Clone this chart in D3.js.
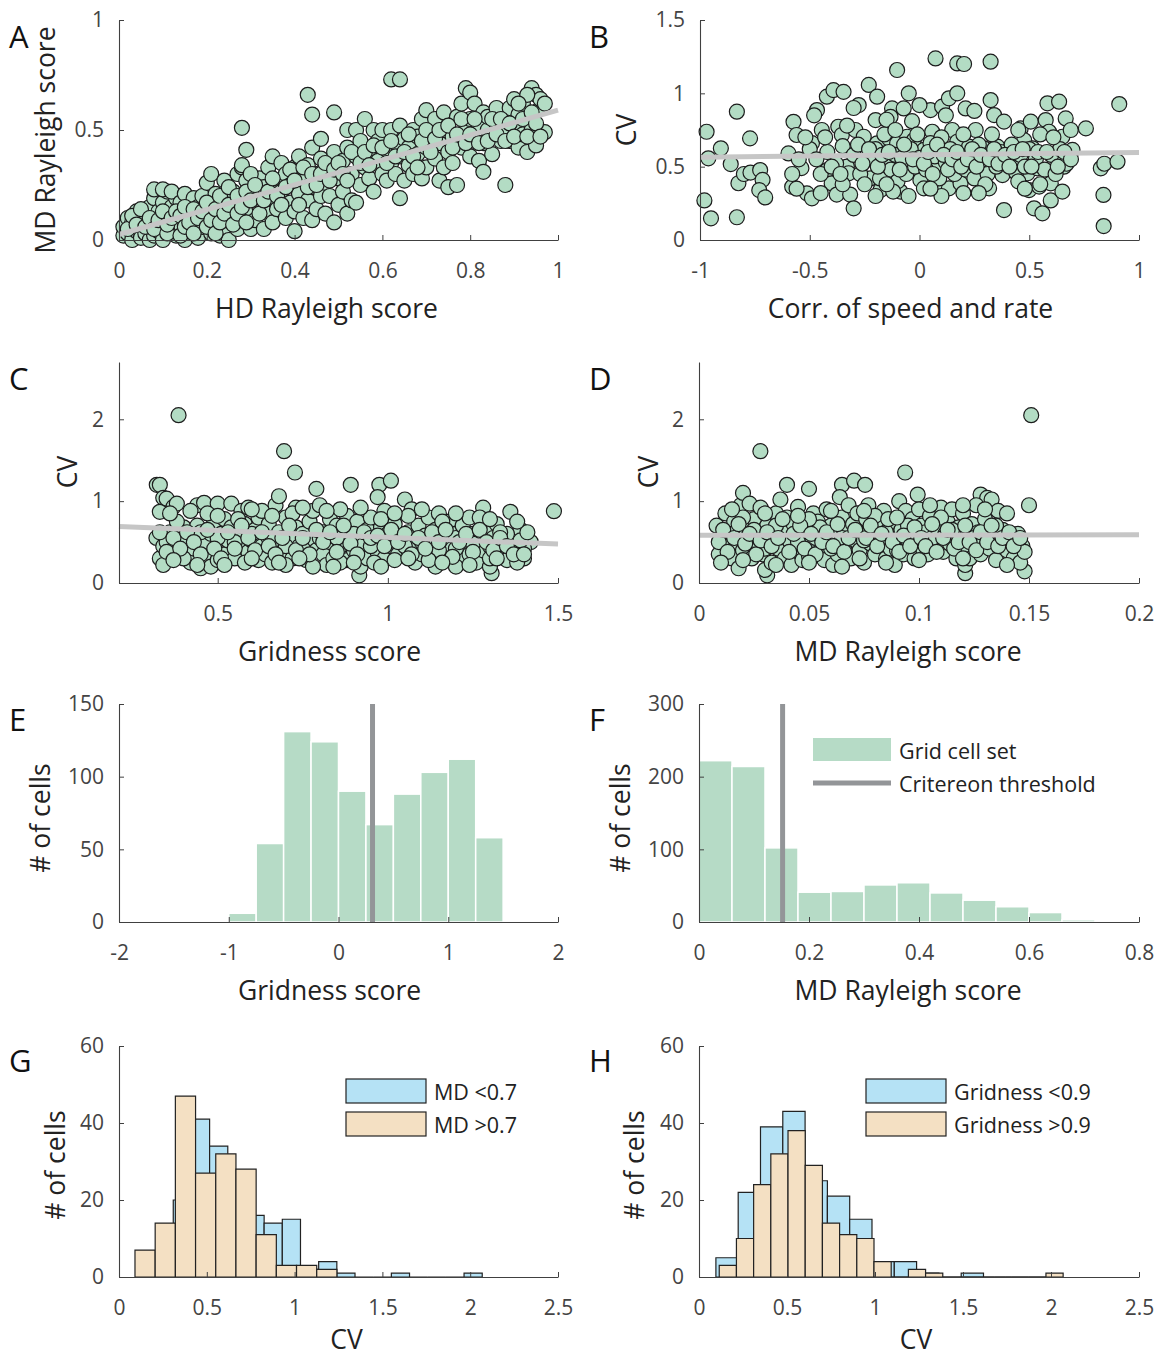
<!DOCTYPE html>
<html>
<head>
<meta charset="utf-8">
<script src="https://cdn.jsdelivr.net/npm/d3@7"></script>
<style>
  body { margin: 0; background: #fff; }
  text { font-family: "Open Sans", sans-serif; }
</style>
</head>
<body>
<svg id="fig" width="1158" height="1357"></svg>
<script>
// ---- data ----

// A: HD Rayleigh score vs MD Rayleigh score
const pointsA = [
  [0.01,0.02],[0.01,0.06],[0.02,0.1],[0.02,0.03],[0.03,0.0],[0.03,0.08],[0.04,0.13],[0.04,0.04],[0.05,0.01],[0.05,0.07],
  [0.06,0.11],[0.06,0.03],[0.07,0.0],[0.07,0.15],[0.07,0.06],[0.08,0.19],[0.08,0.1],[0.08,0.02],[0.09,0.13],[0.09,0.04],
  [0.1,0.08],[0.1,0.17],[0.1,0.0],[0.11,0.22],[0.11,0.12],[0.12,0.05],[0.12,0.15],[0.13,0.02],[0.13,0.19],[0.13,0.09],
  [0.08,0.23],[0.1,0.23],[0.12,0.22],
  [0.14,0.07],[0.14,0.17],[0.15,0.0],[0.15,0.21],[0.16,0.12],[0.16,0.04],[0.17,0.19],[0.17,0.09],[0.18,0.01],[0.18,0.15],
  [0.19,0.2],[0.19,0.06],[0.2,0.11],[0.2,0.26],[0.21,0.03],[0.21,0.16],[0.21,0.3],[0.22,0.08],[0.22,0.21],[0.23,0.13],
  [0.23,0.02],[0.24,0.27],[0.24,0.18],[0.24,0.06],[0.25,0.1],[0.25,0.0],[0.26,0.22],[0.26,0.15],[0.27,0.05],[0.27,0.3],
  [0.28,0.19],[0.28,0.1],[0.28,0.33],[0.28,0.34],[0.29,0.41],[0.28,0.51],[0.29,0.27],[0.3,0.14],[0.3,0.05],
  [0.31,0.2],[0.31,0.09],[0.32,0.28],[0.32,0.15],[0.33,0.05],[0.33,0.24],[0.34,0.33],[0.34,0.12],[0.35,0.38],[0.35,0.19],
  [0.35,0.08],[0.36,0.27],[0.36,0.14],[0.37,0.22],[0.37,0.35],[0.38,0.1],[0.38,0.3],[0.39,0.17],[0.39,0.25],[0.4,0.04],
  [0.4,0.33],[0.4,0.13],[0.41,0.38],[0.41,0.21],[0.42,0.28],[0.42,0.1],[0.43,0.18],[0.43,0.34],[0.44,0.42],[0.44,0.24],
  [0.44,0.09],[0.45,0.3],[0.45,0.14],[0.46,0.46],[0.46,0.37],[0.46,0.2],[0.43,0.66],[0.44,0.57],[0.49,0.58],
  [0.47,0.26],[0.47,0.12],[0.48,0.33],[0.48,0.2],[0.49,0.4],[0.49,0.08],[0.5,0.28],[0.5,0.16],[0.51,0.36],[0.51,0.22],
  [0.52,0.5],[0.52,0.42],[0.52,0.12],[0.53,0.3],[0.53,0.18],[0.54,0.5],[0.54,0.38],[0.54,0.17],[0.55,0.25],[0.55,0.45],
  [0.56,0.33],[0.56,0.55],[0.57,0.4],[0.57,0.28],[0.58,0.5],[0.58,0.22],[0.59,0.36],[0.59,0.45],[0.6,0.3],[0.6,0.5],
  [0.61,0.41],[0.61,0.27],[0.62,0.5],[0.62,0.35],[0.63,0.44],[0.63,0.3],[0.64,0.38],[0.64,0.52],[0.65,0.27],[0.65,0.46],
  [0.66,0.34],[0.66,0.42],[0.67,0.3],[0.67,0.5],[0.68,0.39],[0.68,0.47],[0.69,0.28],[0.69,0.55],[0.7,0.42],[0.7,0.59],
  [0.7,0.33],[0.71,0.48],[0.72,0.37],[0.72,0.55],[0.73,0.44],[0.73,0.27],[0.74,0.58],[0.74,0.33],[0.74,0.5],[0.75,0.4],
  [0.75,0.24],[0.62,0.73],[0.64,0.73],[0.64,0.19],
  [0.76,0.47],[0.76,0.35],[0.77,0.56],[0.77,0.25],[0.78,0.62],[0.78,0.42],[0.79,0.69],[0.79,0.5],[0.8,0.67],[0.8,0.38],
  [0.8,0.55],[0.81,0.62],[0.81,0.45],[0.82,0.52],[0.82,0.36],[0.83,0.58],[0.83,0.31],[0.83,0.44],[0.84,0.5],[0.84,0.56],
  [0.85,0.47],[0.85,0.39],[0.86,0.53],[0.86,0.6],[0.87,0.45],[0.88,0.55],[0.88,0.25],[0.88,0.5],
  [0.89,0.6],[0.89,0.45],[0.9,0.64],[0.9,0.52],[0.91,0.42],[0.91,0.57],[0.92,0.48],[0.92,0.62],[0.93,0.4],[0.93,0.55],
  [0.94,0.69],[0.94,0.5],[0.95,0.43],[0.95,0.66],[0.96,0.6],[0.96,0.64],[0.97,0.49],[0.93,0.66],[0.91,0.62],
  [0.02,0.05],[0.03,0.11],[0.04,0.07],[0.05,0.14],[0.06,0.06],[0.07,0.1],[0.08,0.05],[0.09,0.09],[0.1,0.13],[0.11,0.03],
  [0.11,0.07],[0.12,0.1],[0.13,0.13],[0.14,0.02],[0.14,0.11],[0.15,0.06],[0.15,0.15],[0.16,0.08],[0.17,0.14],[0.17,0.03],
  [0.18,0.1],[0.19,0.13],[0.2,0.06],[0.2,0.17],[0.21,0.09],[0.22,0.14],[0.22,0.03],[0.23,0.2],[0.23,0.08],[0.24,0.12],
  [0.25,0.16],[0.25,0.24],[0.26,0.07],[0.27,0.12],[0.27,0.2],[0.28,0.15],[0.29,0.08],[0.29,0.22],[0.3,0.3],[0.3,0.18],
  [0.31,0.25],[0.32,0.12],[0.33,0.18],[0.34,0.22],[0.35,0.28],[0.36,0.2],[0.37,0.16],[0.38,0.24],[0.39,0.32],[0.4,0.27],
  [0.41,0.16],[0.42,0.33],[0.43,0.24],[0.44,0.3],[0.45,0.25],[0.46,0.3],[0.47,0.35],[0.48,0.27],[0.49,0.32],[0.5,0.35],
  [0.51,0.3],[0.52,0.27],[0.53,0.4],[0.55,0.35],[0.56,0.4],[0.57,0.34],[0.58,0.43],[0.6,0.42],[0.61,0.35],[0.62,0.45],
  [0.63,0.38],[0.65,0.4],[0.66,0.48],[0.67,0.38],[0.68,0.33],[0.69,0.45],[0.7,0.5],[0.71,0.4],[0.72,0.46],[0.73,0.5],
  [0.75,0.52],[0.76,0.42],[0.77,0.48],[0.78,0.55],[0.79,0.44],[0.8,0.48],[0.81,0.55],[0.82,0.44],[0.84,0.45],[0.85,0.55],
  [0.86,0.48],[0.87,0.55],[0.88,0.45],[0.89,0.53],[0.9,0.47],[0.92,0.55],[0.93,0.47],[0.94,0.58],[0.95,0.53],[0.96,0.47],
  [0.97,0.62]
];
const fitA = [[0, 0.025], [1, 0.59]];

// B: correlation of speed and rate vs CV
const pointsB = [
  [-0.97,0.738],[-0.962,0.557],[-0.98,0.27],[-0.95,0.148],[-0.905,0.625],[-0.86,0.518],[-0.832,0.875],[-0.832,0.155],
  [-0.772,0.693],[-0.825,0.387],[-0.8,0.45],[-0.77,0.46],[-0.726,0.477],[-0.715,0.41],[-0.73,0.34],[-0.703,0.29],
  [-0.597,0.59],[-0.574,0.806],[-0.56,0.716],[-0.538,0.49],[-0.58,0.363],[-0.513,0.318],[-0.49,0.284],[-0.49,0.66],
  [-0.467,0.886],[-0.445,0.75],[-0.422,0.977],[-0.392,1.022],[-0.346,1.01],[-0.42,0.477],[-0.4,0.386],[-0.377,0.31],
  [-0.37,0.772],[-0.354,0.716],[-0.331,0.5],[-0.323,0.455],[-0.316,0.31],[-0.3,0.216],[-0.292,0.75],[-0.277,0.92],
  [-0.254,0.704],[-0.231,1.057],[-0.2,0.818],[-0.193,0.977],[-0.193,0.659],[-0.224,0.42],[-0.178,0.34],[-0.148,0.5],
  [-0.14,0.693],[-0.125,0.897],[-0.132,0.84],[-0.102,1.159],[-0.102,0.659],[-0.11,0.58],[-0.087,0.33],[-0.072,0.897],
  [-0.064,0.52],[-0.056,0.704],[-0.049,1.0],[-0.034,0.81],[-0.026,0.68],[0.004,0.409],[0.02,0.614],[0.02,0.352],
  [0.05,0.886],[0.058,0.738],[0.073,1.238],[0.08,0.5],[0.103,0.909],[0.111,0.34],[0.134,0.352],[0.134,0.966],
  [0.149,0.75],[0.172,1.204],[0.203,1.2],[0.172,1.0],[0.172,0.67],[0.187,0.386],[0.21,0.897],[0.226,0.636],
  [0.248,0.534],[0.256,0.75],[0.279,0.455],[0.294,0.625],[0.317,0.352],[0.324,1.216],[0.324,0.954],[0.34,0.852],
  [0.355,0.636],[0.378,0.443],[0.385,0.807],[0.385,0.204],[0.408,0.614],[0.439,0.557],[0.461,0.761],[0.477,0.68],
  [0.492,0.455],[0.499,0.34],[0.507,0.807],[0.515,0.625],[0.522,0.216],[0.537,0.489],[0.545,0.364],[0.56,0.182],
  [0.575,0.818],[0.583,0.932],[0.59,0.738],[0.598,0.27],[0.598,0.386],[0.62,0.568],[0.636,0.943],[0.651,0.704],
  [0.651,0.33],[0.658,0.5],[0.666,0.829],[0.689,0.75],[0.697,0.614],[0.758,0.761],[0.826,0.489],[0.842,0.52],
  [0.838,0.307],[0.839,0.095],[0.902,0.534],[0.91,0.927],
  [-0.55,0.55],[-0.5,0.62],[-0.45,0.45],[-0.42,0.6],[-0.38,0.52],[-0.35,0.64],[-0.3,0.58],[-0.27,0.45],[-0.25,0.38],
  [-0.22,0.55],[-0.2,0.62],[-0.18,0.42],[-0.16,0.72],[-0.13,0.48],[-0.1,0.4],[-0.08,0.56],[-0.06,0.45],[-0.04,0.62],
  [-0.02,0.5],[0,0.56],[0.03,0.48],[0.05,0.66],[0.07,0.57],[0.09,0.42],[0.1,0.7],[0.12,0.53],[0.14,0.62],[0.16,0.45],
  [0.18,0.55],[0.2,0.72],[0.21,0.48],[0.23,0.58],[0.25,0.42],[0.27,0.65],[0.29,0.55],[0.31,0.45],[0.33,0.72],[0.35,0.5],
  [0.37,0.6],[0.4,0.52],[0.42,0.65],[0.44,0.46],[0.46,0.58],[0.48,0.5],[0.5,0.62],[0.53,0.55],[0.55,0.72],[0.57,0.48],
  [0.6,0.58],[0.62,0.45],[0.64,0.62],[0.67,0.52],
  [-0.45,0.32],[-0.35,0.38],[-0.2,0.3],[-0.12,0.33],[-0.05,0.3],[0.1,0.3],[0.2,0.32],[0.3,0.38],[0.45,0.4],[0.55,0.38],
  [-0.48,0.85],[-0.3,0.9],[-0.15,0.82],[0.0,0.92],[0.12,0.85],[0.25,0.88],[0.45,0.75],
  [-0.58,0.45],[-0.52,0.7],[-0.47,0.55],[-0.43,0.7],[-0.4,0.5],[-0.36,0.45],[-0.33,0.78],[-0.28,0.65],[-0.26,0.52],
  [-0.23,0.62],[-0.19,0.5],[-0.17,0.58],[-0.14,0.6],[-0.11,0.75],[-0.09,0.48],[-0.07,0.65],[-0.03,0.55],[-0.01,0.72],
  [0.02,0.52],[0.04,0.6],[0.06,0.45],[0.08,0.65],[0.11,0.58],[0.13,0.48],[0.15,0.55],[0.17,0.6],[0.19,0.5],[0.22,0.55],
  [0.24,0.62],[0.26,0.5],[0.28,0.58],[0.32,0.55],[0.34,0.62],[0.36,0.52],[0.39,0.58],[0.41,0.5],[0.43,0.6],[0.47,0.62],
  [0.51,0.5],[0.54,0.6],[0.58,0.6],[0.61,0.7],[0.63,0.5],[0.66,0.6],[0.69,0.55],[-0.56,0.35],[-0.15,0.38],[0.05,0.35],
  [0.27,0.32],[0.48,0.35]
];
const fitB = [[-1, 0.565], [1, 0.597]];

// C: gridness score vs CV
const pointsC = [
  [0.385,2.05],[0.695,1.61],[0.727,1.35],[0.891,1.2],[0.975,1.2],[1.009,1.25],[1.488,0.877],[0.321,1.2],[0.33,1.2],
  [0.34,1.04],[0.916,0.094],[1.305,0.12],
  [0.32,0.55],[0.33,0.3],[0.33,0.87],[0.34,0.45],[0.34,0.22],
  [0.35,1.03],[0.36,0.62],[0.36,0.4],[0.37,0.93],[0.38,0.48],[0.38,0.97],
  [0.4,0.68],[0.41,0.35],[0.42,0.58],[0.42,0.25],[0.43,0.42],[0.44,0.95],[0.44,0.7],
  [0.45,0.18],[0.46,0.5],[0.46,0.98],[0.47,0.28],[0.48,0.6],[0.48,0.2],[0.49,0.75],
  [0.5,0.45],[0.5,0.97],[0.51,0.6],[0.52,0.78],[0.52,0.35],[0.53,0.52],[0.54,0.97],[0.54,0.68],
  [0.55,0.3],[0.56,0.58],[0.57,0.45],[0.57,0.88],[0.58,0.72],[0.59,0.38],[0.59,0.92],
  [0.6,0.52],[0.61,0.65],[0.62,0.28],[0.62,0.8],[0.63,0.45],[0.64,0.6],[0.64,0.35],
  [0.65,0.72],[0.66,0.25],[0.67,0.95],[0.67,0.5],[0.68,1.06],[0.68,0.62],[0.69,0.38],
  [0.7,0.8],[0.71,0.55],[0.72,0.3],[0.73,0.92],[0.73,0.68],[0.74,0.45],
  [0.75,0.6],[0.76,0.28],[0.77,0.75],[0.77,0.5],[0.78,0.88],[0.79,0.4],[0.79,1.15],
  [0.8,0.95],[0.81,0.62],[0.81,0.35],[0.82,0.22],[0.83,0.78],[0.83,0.5],[0.84,0.3],
  [0.85,0.7],[0.86,0.45],[0.87,0.58],[0.88,0.82],[0.88,0.28],[0.89,0.65],
  [0.9,0.4],[0.91,0.75],[0.91,0.55],[0.92,0.2],[0.93,0.48],[0.94,0.3],[0.94,0.65],
  [0.95,0.8],[0.96,0.52],[0.97,1.05],[0.97,0.38],[0.98,0.68],[0.99,0.88],[0.99,0.3],
  [1.0,0.6],[1.01,0.45],[1.02,0.72],[1.03,0.35],[1.04,0.55],[1.05,1.02],
  [1.06,0.4],[1.06,0.62],[1.07,0.9],[1.08,0.25],[1.08,0.5],[1.09,0.7],
  [1.1,0.35],[1.11,0.58],[1.12,0.8],[1.13,0.45],[1.14,0.2],[1.14,0.65],
  [1.15,0.85],[1.16,0.52],[1.17,0.3],[1.18,0.75],[1.19,0.42],[1.19,0.6],
  [1.2,0.55],[1.21,0.28],[1.22,0.7],[1.23,0.45],[1.24,0.8],[1.24,0.35],
  [1.25,0.6],[1.26,0.25],[1.27,0.52],[1.28,0.92],[1.28,0.4],[1.29,0.68],
  [1.3,0.2],[1.31,0.55],[1.32,0.72],[1.33,0.38],[1.34,0.5],[1.35,0.28],
  [1.36,0.87],[1.37,0.58],[1.38,0.45],[1.39,0.65],[1.4,0.3],[1.41,0.55],[1.42,0.5],
  [0.35,0.5],[0.4,0.55],[0.45,0.62],[0.5,0.55],[0.55,0.5],[0.6,0.6],[0.65,0.55],[0.7,0.45],[0.75,0.42],[0.8,0.55],
  [0.85,0.55],[0.9,0.6],[0.95,0.45],[1.0,0.5],[1.05,0.45],[1.1,0.5],[1.15,0.4],[1.2,0.42],[1.25,0.48],[1.3,0.45],
  [1.35,0.6],[1.4,0.42],
  [0.38,0.75],[0.47,0.85],[0.56,0.78],[0.63,0.88],[0.72,0.85],[0.86,0.9],[0.98,0.78],[1.06,0.82],[1.16,0.75],
  [1.27,0.8],[1.33,0.62],
  [0.4,0.3],[0.5,0.28],[0.58,0.25],[0.7,0.22],[0.78,0.2],[0.86,0.25],[0.96,0.25],[1.02,0.28],[1.12,0.28],[1.2,0.2],
  [1.3,0.3],[1.38,0.25],
  [0.33,0.62],[0.35,0.38],[0.37,0.55],[0.39,0.42],[0.41,0.62],[0.43,0.5],[0.45,0.35],[0.47,0.65],[0.49,0.42],[0.51,0.3],
  [0.53,0.62],[0.55,0.42],[0.57,0.7],[0.59,0.55],[0.61,0.4],[0.63,0.62],[0.65,0.45],[0.67,0.35],[0.69,0.55],[0.71,0.7],
  [0.73,0.4],[0.75,0.55],[0.77,0.35],[0.79,0.65],[0.81,0.5],[0.83,0.62],[0.85,0.38],[0.87,0.7],[0.89,0.48],[0.91,0.35],
  [0.93,0.62],[0.95,0.55],[0.97,0.58],[0.99,0.45],[1.01,0.65],[1.03,0.5],[1.05,0.6],[1.07,0.35],[1.09,0.55],[1.11,0.42],
  [1.13,0.62],[1.15,0.5],[1.17,0.65],[1.19,0.32],[1.21,0.5],[1.23,0.6],[1.25,0.38],[1.27,0.65],[1.29,0.5],[1.31,0.4],
  [1.33,0.55],[1.35,0.45],[1.37,0.35],[1.39,0.52],[1.41,0.62],
  [0.36,0.85],[0.42,0.88],[0.5,0.82],[0.6,0.9],[0.66,0.82],[0.75,0.92],[0.82,0.88],[0.92,0.92],[1.02,0.85],[1.1,0.9],
  [1.2,0.85],[1.3,0.78],[1.38,0.75],
  [0.37,0.28],[0.44,0.22],[0.52,0.22],[0.6,0.3],[0.68,0.25],[0.74,0.3],[0.84,0.2],[0.9,0.25],[0.98,0.2],[1.06,0.3],
  [1.16,0.25],[1.24,0.22],[1.32,0.3],[1.4,0.35]
];
const fitC = [[0.21, 0.69], [1.5, 0.475]];

// D: MD Rayleigh score (grid cells) vs CV
const pointsD = [
  [0.151,2.05],[0.0279,1.61],[0.0937,1.35],[0.15,0.95],[0.04,1.2],[0.05,1.15],[0.065,1.2],[0.0705,1.25],[0.0755,1.2],
  [0.0994,1.08],[0.128,1.08],[0.131,1.04],[0.031,0.094],[0.121,0.12],[0.148,0.143],
  [0.008,0.7],[0.009,0.35],[0.01,0.55],[0.012,0.85],[0.013,0.45],[0.014,0.62],[0.015,0.3],[0.016,0.75],[0.017,0.5],
  [0.018,0.18],[0.019,0.95],[0.02,0.4],[0.02,1.1],[0.02,0.68],
  [0.022,0.55],[0.023,0.97],[0.024,0.3],[0.025,0.78],[0.026,0.45],[0.027,0.62],[0.028,0.92],[0.029,0.35],[0.03,0.16],
  [0.031,0.7],[0.032,0.5],[0.033,0.25],[0.034,0.58],[0.035,0.85],
  [0.036,0.42],[0.037,1.02],[0.038,0.65],[0.039,0.3],[0.04,0.8],[0.041,0.52],[0.042,0.22],[0.043,0.72],[0.044,0.4],
  [0.045,0.93],[0.046,0.58],[0.047,0.28],[0.048,0.68],[0.049,0.45],[0.05,0.33],
  [0.052,0.85],[0.053,0.55],[0.054,0.75],[0.055,0.38],[0.056,0.62],[0.057,0.28],[0.058,0.9],[0.059,0.48],[0.06,0.7],
  [0.061,0.22],[0.062,0.58],[0.063,0.35],[0.064,1.05],[0.065,0.8],
  [0.066,0.45],[0.067,0.62],[0.068,0.95],[0.069,0.3],[0.07,0.72],[0.071,0.52],[0.072,0.85],[0.073,0.4],[0.074,0.6],
  [0.075,0.25],[0.076,0.78],[0.077,0.95],[0.078,0.48],[0.079,0.65],[0.08,0.35],
  [0.082,0.7],[0.083,0.5],[0.084,0.88],[0.085,0.3],[0.086,0.6],[0.087,0.42],[0.088,0.75],[0.089,0.22],[0.09,0.55],
  [0.091,1.0],[0.092,0.65],[0.093,0.35],[0.094,0.88],[0.095,0.45],
  [0.096,0.6],[0.097,0.78],[0.098,0.3],[0.099,0.52],[0.1,0.9],[0.101,0.7],[0.102,0.4],[0.103,0.62],[0.104,0.35],
  [0.105,0.82],[0.106,0.55],[0.107,0.45],[0.108,0.68],[0.11,0.92],
  [0.111,0.38],[0.112,0.6],[0.113,0.75],[0.114,0.48],[0.115,0.9],[0.116,0.55],[0.117,0.3],[0.118,0.68],[0.119,0.42],
  [0.12,0.85],[0.121,0.22],[0.122,0.58],[0.123,0.3],[0.124,0.72],[0.125,0.45],
  [0.126,0.95],[0.127,0.62],[0.128,0.35],[0.129,0.52],[0.13,0.78],[0.132,0.42],[0.133,1.02],[0.134,0.6],[0.135,0.28],
  [0.136,0.88],[0.137,0.5],[0.138,0.65],[0.14,0.4],[0.142,0.55],[0.143,0.3],[0.144,0.48],[0.145,0.6],[0.146,0.25],
  [0.147,0.45],[0.148,0.38],
  [0.015,0.6],[0.025,0.65],[0.035,0.7],[0.045,0.5],[0.055,0.68],[0.065,0.55],[0.075,0.52],[0.085,0.62],[0.095,0.7],
  [0.105,0.5],[0.115,0.65],[0.125,0.55],[0.135,0.7],[0.02,0.8],[0.05,0.78],[0.08,0.82],[0.11,0.8],[0.13,0.9],
  [0.03,0.42],[0.06,0.42],[0.09,0.4],[0.12,0.45],
  [0.009,0.5],[0.011,0.65],[0.013,0.38],[0.016,0.55],[0.018,0.72],[0.021,0.48],[0.023,0.6],[0.026,0.35],[0.028,0.52],
  [0.031,0.62],[0.033,0.45],[0.036,0.55],[0.038,0.78],[0.041,0.38],[0.043,0.6],[0.046,0.7],[0.048,0.42],[0.051,0.6],
  [0.053,0.35],[0.056,0.5],[0.058,0.62],[0.061,0.45],[0.063,0.72],[0.066,0.38],[0.068,0.55],[0.071,0.65],[0.073,0.3],
  [0.076,0.55],[0.078,0.7],[0.081,0.45],[0.083,0.6],[0.086,0.78],[0.088,0.5],[0.091,0.38],[0.093,0.58],[0.096,0.45],
  [0.098,0.68],[0.101,0.55],[0.103,0.45],[0.106,0.72],[0.108,0.38],[0.111,0.55],[0.113,0.65],[0.116,0.42],[0.118,0.5],
  [0.121,0.7],[0.123,0.5],[0.126,0.4],[0.128,0.62],[0.131,0.5],[0.133,0.7],[0.136,0.45],[0.138,0.55],[0.141,0.62],
  [0.143,0.45],[0.146,0.55],
  [0.01,0.25],[0.02,0.28],[0.035,0.22],[0.05,0.25],[0.065,0.2],[0.085,0.25],[0.1,0.28],[0.12,0.3],[0.14,0.22],
  [0.015,0.9],[0.03,0.85],[0.045,0.82],[0.06,0.88],[0.075,0.88],[0.09,0.8],[0.105,0.95],[0.12,0.95],[0.14,0.85]
];
const fitD = [[0, 0.582], [0.2, 0.588]];

// E: gridness score histogram
const gridnessEdges = [-1, -0.75, -0.5, -0.25, 0, 0.25, 0.5, 0.75, 1, 1.25, 1.5];
const gridnessCounts = [6, 54, 131, 124, 90, 67, 88, 103, 112, 58];
const gridnessThreshold = 0.31;

// F: MD Rayleigh score histogram
const mdEdges = [0, 0.06, 0.12, 0.18, 0.24, 0.3, 0.36, 0.42, 0.48, 0.54, 0.6, 0.66, 0.72];
const mdCounts = [222, 214, 102, 41, 42, 51, 54, 40, 30, 21, 13, 3];
const mdThreshold = 0.152;

// G: CV split by MD score
const gLowStart = 0.309, gLowWidth = 0.1035;
const gLowCounts = [20, 41, 34, 25, 16, 14, 15, 2, 4, 1, 0, 0, 1, 0, 0, 0, 1];
const gHighStart = 0.091, gHighWidth = 0.115;
const gHighCounts = [7, 14, 47, 27, 32, 28, 11, 3, 3, 2];

// H: CV split by gridness
const hLowStart = 0.096, hLowWidth = 0.1267;
const hLowCounts = [5, 22, 39, 43, 25, 21, 15, 4, 4, 1, 0, 1, 0, 0, 0];
const hHighStart = 0.115, hHighWidth = 0.0977;
const hHighCounts = [3, 10, 24, 32, 38, 29, 14, 11, 10, 4, 0, 2, 1, 0, 0, 0, 0, 0, 0, 1];

// ---- drawing ----
const svg = d3.select("#fig");
const axisColor = "#404040";
const dotFill = "#b3dcc4";
const histGreen = "#b6dbc6";
const blueFill = "#b5e2f5";
const orangeFill = "#f4e0c3";
const fmt = d => String(d);

function makeAxes(p) {
  const x = d3.scaleLinear().domain(p.xd).range([p.l, p.r]);
  const y = d3.scaleLinear().domain(p.yd).range([p.b, p.t]);
  return { x, y };
}

function drawAxes(p, s) {
  const gx = svg.append("g")
    .attr("transform", `translate(0,${p.b})`)
    .call(d3.axisBottom(s.x).tickValues(p.xt).tickFormat(fmt)
      .tickSizeInner(-5).tickSizeOuter(0).tickPadding(23));
  const gy = svg.append("g")
    .attr("transform", `translate(${p.l},0)`)
    .call(d3.axisLeft(s.y).tickValues(p.yt).tickFormat(fmt)
      .tickSizeInner(-5).tickSizeOuter(0).tickPadding(15));
  [gx, gy].forEach(g => {
    g.select(".domain").attr("stroke", axisColor).attr("stroke-width", 1.1);
    g.selectAll(".tick line").attr("stroke", axisColor);
    g.selectAll(".tick text").attr("fill", "#444")
      .style("font-size", "21px").style("font-family", "'Open Sans', sans-serif");
  });

  // axis labels
  svg.append("text")
    .attr("x", (p.l + p.r) / 2 + (p.xlOff || 0))
    .attr("y", p.b + (p.xlY || 78))
    .attr("text-anchor", "middle")
    .attr("fill", "#222")
    .style("font-size", "26.5px")
    .text(p.xlab);
  svg.append("text")
    .attr("transform", `translate(${p.ylx},${p.yly}) rotate(-90)`)
    .attr("text-anchor", "middle")
    .attr("dominant-baseline", "central")
    .attr("fill", "#222")
    .style("font-size", "26.5px")
    .text(p.ylab);
  svg.append("text")
    .attr("x", p.lx)
    .attr("y", p.ly)
    .attr("fill", "#111")
    .style("font-size", "31px")
    .text(p.letter);
}

function scatterPanel(p, pts, fit) {
  const s = makeAxes(p);
  svg.append("g").selectAll("circle")
    .data(pts)
    .enter()
    .append("circle")
    .attr("cx", d => s.x(d[0]))
    .attr("cy", d => s.y(d[1]))
    .attr("r", 7.5)
    .attr("fill", dotFill)
    .attr("stroke", "#1c1c1c")
    .attr("stroke-width", 1.2);
  svg.append("line")
    .attr("x1", s.x(fit[0][0])).attr("y1", s.y(fit[0][1]))
    .attr("x2", s.x(fit[1][0])).attr("y2", s.y(fit[1][1]))
    .attr("stroke", "#c6c6c6")
    .attr("stroke-width", 5);
  drawAxes(p, s);
}

function greenHist(p, edges, counts, thr) {
  const s = makeAxes(p);
  svg.append("g").selectAll("rect")
    .data(counts)
    .enter()
    .append("rect")
    .attr("x", (d, i) => s.x(edges[i]))
    .attr("width", (d, i) => s.x(edges[i + 1]) - s.x(edges[i]))
    .attr("y", d => s.y(d))
    .attr("height", d => s.y(0) - s.y(d))
    .attr("fill", histGreen)
    .attr("stroke", "#fff")
    .attr("stroke-width", 1.5);
  svg.append("line")
    .attr("x1", s.x(thr)).attr("x2", s.x(thr))
    .attr("y1", p.t).attr("y2", p.b)
    .attr("stroke", "#939598")
    .attr("stroke-width", 5);
  drawAxes(p, s);
  return s;
}

function outlineHist(s, start, width, counts, fill) {
  svg.append("g").selectAll("path")
    .data(counts)
    .enter()
    .append("path")
    .attr("d", (d, i) => {
      const x0 = s.x(start + i * width), x1 = s.x(start + (i + 1) * width);
      const y0 = s.y(0), y1 = s.y(d);
      return `M${x0},${y0}V${y1}H${x1}V${y0}Z`;
    })
    .attr("fill", fill)
    .attr("stroke", "#222")
    .attr("stroke-width", 1.2);
}

function splitHist(p, lowStart, lowWidth, lowCounts, highStart, highWidth, highCounts, labels, legX) {
  const s = makeAxes(p);
  outlineHist(s, lowStart, lowWidth, lowCounts, blueFill);
  outlineHist(s, highStart, highWidth, highCounts, orangeFill);
  drawAxes(p, s);
  const leg = svg.append("g");
  [[blueFill, labels[0], p.t + 33], [orangeFill, labels[1], p.t + 66]].forEach(([c, t, yy]) => {
    leg.append("rect")
      .attr("x", legX).attr("y", yy).attr("width", 80).attr("height", 24)
      .attr("fill", c).attr("stroke", "#222").attr("stroke-width", 1.2);
    leg.append("text")
      .attr("x", legX + 88).attr("y", yy + 12)
      .attr("dominant-baseline", "central")
      .attr("fill", "#222")
      .style("font-size", "21.5px")
      .text(t);
  });
}

// panel layouts
const L = { l: 119, r: 558 }, R = { l: 700, r: 1139 };

scatterPanel({ ...L, t: 20, b: 240, xd: [0, 1], yd: [0, 1],
  xt: [0, 0.2, 0.4, 0.6, 0.8, 1], yt: [0, 0.5, 1],
  xlab: "HD Rayleigh score", xlOff: -12, ylab: "MD Rayleigh score", ylx: 45, yly: 140,
  letter: "A", lx: 9, ly: 48 }, pointsA, fitA);

scatterPanel({ ...R, t: 20, b: 240, xd: [-1, 1], yd: [0, 1.5],
  xt: [-1, -0.5, 0, 0.5, 1], yt: [0, 0.5, 1, 1.5],
  xlab: "Corr. of speed and rate", xlOff: -9, ylab: "CV", ylx: 626, yly: 130,
  letter: "B", lx: 589, ly: 48 }, pointsB, fitB);

scatterPanel({ ...L, t: 362, b: 583, xd: [0.21, 1.5], yd: [0, 2.7],
  xt: [0.5, 1, 1.5], yt: [0, 1, 2],
  xlab: "Gridness score", xlOff: -9, ylab: "CV", ylx: 67, yly: 472,
  letter: "C", lx: 9, ly: 390 }, pointsC, fitC);

scatterPanel({ ...R, l: 699, t: 362, b: 583, xd: [0, 0.2], yd: [0, 2.7],
  xt: [0, 0.05, 0.1, 0.15, 0.2], yt: [0, 1, 2],
  xlab: "MD Rayleigh score", xlOff: -11, ylab: "CV", ylx: 648, yly: 472,
  letter: "D", lx: 589, ly: 390 }, pointsD, fitD);

greenHist({ ...L, t: 704, b: 922, xd: [-2, 2], yd: [0, 150],
  xt: [-2, -1, 0, 1, 2], yt: [0, 50, 100, 150],
  xlab: "Gridness score", xlOff: -9, ylab: "# of cells", ylx: 40, yly: 818,
  letter: "E", lx: 9, ly: 731 }, gridnessEdges, gridnessCounts, gridnessThreshold);

greenHist({ ...R, l: 699, t: 704, b: 922, xd: [0, 0.8], yd: [0, 300],
  xt: [0, 0.2, 0.4, 0.6, 0.8], yt: [0, 100, 200, 300],
  xlab: "MD Rayleigh score", xlOff: -11, ylab: "# of cells", ylx: 620, yly: 818,
  letter: "F", lx: 589, ly: 731 }, mdEdges, mdCounts, mdThreshold);

// legend for F
svg.append("rect").attr("x", 813).attr("y", 738).attr("width", 78).attr("height", 23)
  .attr("fill", histGreen);
svg.append("text").attr("x", 899).attr("y", 750).attr("dominant-baseline", "central")
  .attr("fill", "#222").style("font-size", "21.5px").text("Grid cell set");
svg.append("line").attr("x1", 813).attr("x2", 891).attr("y1", 783).attr("y2", 783)
  .attr("stroke", "#939598").attr("stroke-width", 5);
svg.append("text").attr("x", 899).attr("y", 783).attr("dominant-baseline", "central")
  .attr("fill", "#222").style("font-size", "21.5px").text("Critereon threshold");

splitHist({ ...L, t: 1046, b: 1277, xd: [0, 2.5], yd: [0, 60],
  xt: [0, 0.5, 1, 1.5, 2, 2.5], yt: [0, 20, 40, 60],
  xlab: "CV", xlOff: 8, xlY: 72, ylab: "# of cells", ylx: 55, yly: 1165,
  letter: "G", lx: 9, ly: 1072 },
  gLowStart, gLowWidth, gLowCounts, gHighStart, gHighWidth, gHighCounts, ["MD <0.7", "MD >0.7"], 346);

splitHist({ ...R, l: 699, t: 1046, b: 1277, xd: [0, 2.5], yd: [0, 60],
  xt: [0, 0.5, 1, 1.5, 2, 2.5], yt: [0, 20, 40, 60],
  xlab: "CV", xlOff: -3, xlY: 72, ylab: "# of cells", ylx: 634, yly: 1165,
  letter: "H", lx: 589, ly: 1072 },
  hLowStart, hLowWidth, hLowCounts, hHighStart, hHighWidth, hHighCounts, ["Gridness <0.9", "Gridness >0.9"], 866);
</script>
</body>
</html>
